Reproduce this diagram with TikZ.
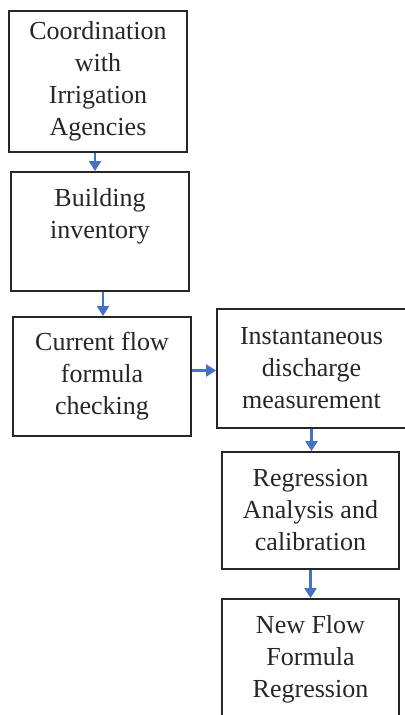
\documentclass[tikz,border=0pt]{standalone}
\usepackage{fontspec}
\setmainfont{Liberation Serif}
\usetikzlibrary{arrows.meta,positioning}
\definecolor{flowblue}{RGB}{68,114,196}
\begin{document}
\begin{tikzpicture}[x=0.5pt, y=-0.5pt,
  box/.style={draw=black!85, line width=0.9pt, align=center, inner sep=0pt,
    font=\fontsize{13}{16}\selectfont, text=black!85},
  flow/.style={flowblue, line width=1.1pt, -{Triangle[length=5pt,width=6pt]}}]
\useasboundingbox (0,0) rectangle (404,715);
% left column
\node[box, minimum width=89pt, minimum height=70.5pt] (coord) at (98,81.5) {Coordination\\with\\Irrigation\\Agencies};
\node[box, minimum width=89pt, minimum height=59.5pt] (build) at (100,231.5) {};
\node[box, draw=none, below=8pt of build.north] (buildtxt) {Building\\inventory};
\node[box, minimum width=89pt, minimum height=59.5pt] (check) at (102,376.5) {Current flow\\formula\\checking};
% right column
\node[box, minimum width=94.5pt, minimum height=59.5pt] (measure) at (311.5,368.5) {Instantaneous\\discharge\\measurement};
\node[box, minimum width=88.5pt, minimum height=58.5pt] (regr) at (310.5,510.5) {Regression\\Analysis and\\calibration};
\node[box, minimum width=88.5pt, minimum height=60.5pt] (newflow) at (310.5,659.5) {New Flow\\Formula\\Regression};
% arrows
\draw[flow] ([xshift=-1.5pt]coord.south) -- ([xshift=-1.5pt]coord.south |- build.north);
\draw[flow] ([xshift=1.5pt]build.south) -- ([xshift=1.5pt]build.south |- check.north);
\draw[flow] ([yshift=3pt]check.east) -- ([yshift=3pt]check.east -| measure.west);
\draw[flow] (measure.south) -- (measure.south |- regr.north);
\draw[flow] (regr.south) -- (regr.south |- newflow.north);
\end{tikzpicture}
\end{document}
